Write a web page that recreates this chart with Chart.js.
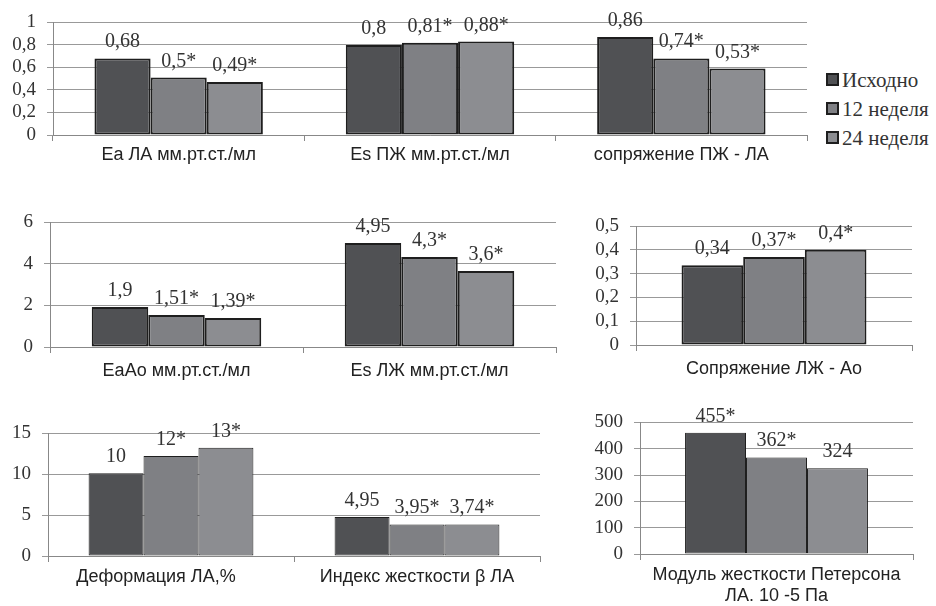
<!DOCTYPE html>
<html lang="ru">
<head>
<meta charset="utf-8">
<title>Показатели жесткости и сопряжения</title>
<script src="https://cdn.jsdelivr.net/npm/chart.js@4.4.0/dist/chart.umd.min.js"></script>
<style>
    html, body { margin: 0; padding: 0; background: #fff; }
    #page { position: relative; width: 936px; height: 606px; overflow: hidden; }
    .box { position: absolute; }
    .legend-item {
        position: absolute; left: 826px; height: 24px; line-height: 24px;
        font-family: "Liberation Serif", "Times New Roman", serif; font-size: 21px; color: #333;
        white-space: nowrap;
    }
    .legend-item span.sw {
        display: inline-block; width: 9px; height: 9px; border: 2px solid #1e1e1e;
        margin-right: 3px; vertical-align: 1px;
    }
</style>
</head>
<body>
<div id="page">
    <div class="box" style="left:0;top:0"><canvas id="c1" width="815" height="180"></canvas></div>
    <div class="box" style="left:0;top:195px"><canvas id="c2" width="565" height="200"></canvas></div>
    <div class="box" style="left:580px;top:200px"><canvas id="c3" width="356" height="190"></canvas></div>
    <div class="box" style="left:0;top:405px"><canvas id="c4" width="560" height="200"></canvas></div>
    <div class="box" style="left:585px;top:400px"><canvas id="c5" width="351" height="206"></canvas></div>
    <div id="legend"></div>
</div>
<script>
// --- Series ---
const seriesNames = ['Исходно', '12 неделя', '24 неделя'];
const seriesColors = ['#505154', '#7f8084', '#8c8d91'];

// --- Chart 1: Ea ЛА / Es ПЖ / сопряжение ПЖ-ЛА ---
const cats1 = ['Ea ЛА мм.рт.ст./мл', 'Es ПЖ мм.рт.ст./мл', 'сопряжение ПЖ - ЛА'];
const base1 = [0.68, 0.80, 0.87];
const week12_1 = [0.51, 0.82, 0.68];
const week24_1 = [0.47, 0.83, 0.59];
const text1 = [['0,68', '0,8', '0,86'], ['0,5*', '0,81*', '0,74*'], ['0,49*', '0,88*', '0,53*']];

// --- Chart 2: EaAo / Es ЛЖ ---
const cats2 = ['EaAo мм.рт.ст./мл', 'Es ЛЖ мм.рт.ст./мл'];
const base2 = [1.92, 4.99];
const week12_2 = [1.54, 4.32];
const week24_2 = [1.39, 3.65];
const text2 = [['1,9', '4,95'], ['1,51*', '4,3*'], ['1,39*', '3,6*']];

// --- Chart 3: Сопряжение ЛЖ-Ао ---
const cats3 = ['Сопряжение ЛЖ - Ао'];
const base3 = [0.335];
const week12_3 = [0.37];
const week24_3 = [0.40];
const text3 = [['0,34'], ['0,37*'], ['0,4*']];

// --- Chart 4: Деформация ЛА / Индекс жесткости ---
const cats4 = ['Деформация ЛА,%      ', 'Индекс жесткости β ЛА'];
const base4 = [10.1, 4.76];
const week12_4 = [12.2, 3.85];
const week24_4 = [13.2, 3.85];
const text4 = [['10', '4,95'], ['12*', '3,95*'], ['13*', '3,74*']];

// --- Chart 5: Модуль Петерсона ---
const cats5 = [['Модуль жесткости Петерсона', 'ЛА. 10 -5 Па']];
const base5 = [461];
const week12_5 = [367];
const week24_5 = [326];
const text5 = [['455*'], ['362*'], ['324']];

const serif = '"Liberation Serif", "Times New Roman", serif';
const sans = '"Liberation Sans", Arial, sans-serif';

// value labels above bars
const valueLabels = {
    id: 'valueLabels',
    afterDatasetsDraw(chart) {
        const ctx = chart.ctx;
        ctx.save();
        ctx.font = '20px ' + serif;
        ctx.fillStyle = '#333';
        ctx.textAlign = 'center';
        ctx.textBaseline = 'alphabetic';
        chart.data.datasets.forEach((ds, i) => {
            chart.getDatasetMeta(i).data.forEach((bar, j) => {
                ctx.fillText(ds.valueText[j], bar.x, bar.y - 11);
            });
        });
        ctx.restore();
    }
};

function fmt(v) {
    return String(Number(v.toFixed(2))).replace('.', ',');
}

function makeChart(id, cats, series, texts, yMax, yStep, geo, bw) {
    const datasets = series.map((data, i) => ({
        label: seriesNames[i],
        data: data,
        valueText: texts[i],
        backgroundColor: seriesColors[i],
        borderColor: '#1e1e1e',
        borderWidth: bw,
        borderSkipped: false,
        categoryPercentage: 0.67,
        barPercentage: 1.0
    }));
    return new Chart(document.getElementById(id), {
        type: 'bar',
        data: { labels: cats, datasets: datasets },
        options: {
            responsive: false,
            animation: false,
            devicePixelRatio: 1,
            layout: { padding: { top: geo.top, right: geo.right, left: 0, bottom: 0 } },
            plugins: { legend: { display: false }, tooltip: { enabled: false } },
            scales: {
                x: {
                    grid: { offset: true, drawOnChartArea: false, tickLength: 6, color: '#888' },
                    border: { color: '#888' },
                    ticks: {
                        color: '#222', font: { family: sans, size: 18 }, padding: geo.xPad,
                        maxRotation: 0, autoSkip: false
                    },
                    afterFit: (scale) => { scale.height = geo.xh; }
                },
                y: {
                    min: 0, max: yMax,
                    grid: { color: '#999', tickLength: 6 },
                    border: { color: '#888' },
                    ticks: {
                        stepSize: yStep, autoSkip: false, color: '#333',
                        font: { family: serif, size: 19 }, padding: 11,
                        callback: (v) => fmt(v)
                    },
                    afterFit: (scale) => { scale.width = geo.yw; }
                }
            }
        },
        plugins: [valueLabels]
    });
}

makeChart('c1', cats1, [base1, week12_1, week24_1], text1, 1, 0.2,
    { top: 20, right: 8, yw: 53, xh: 45, xPad: 3 }, 2);
makeChart('c2', cats2, [base2, week12_2, week24_2], text2, 6, 2,
    { top: 27, right: 9, yw: 50, xh: 48, xPad: 7 }, 2);
makeChart('c3', cats3, [base3, week12_3, week24_3], text3, 0.5, 0.1,
    { top: 26, right: 24, yw: 56, xh: 45, xPad: 7 }, 2);
makeChart('c4', cats4, [base4, week12_4, week24_4], text4, 15, 5,
    { top: 28, right: 20, yw: 48, xh: 49, xPad: 4 }, 1);
makeChart('c5', cats5, [base5, week12_5, week24_5], text5, 500, 100,
    { top: 22, right: 23, yw: 55, xh: 52, xPad: 4 }, 1);

// legend for the top chart
const legend = document.getElementById('legend');
const legendTops = [68, 97, 126];
seriesNames.forEach((name, i) => {
    const item = document.createElement('div');
    item.className = 'legend-item';
    item.style.top = legendTops[i] + 'px';
    item.innerHTML = `<span class="sw" style="background:${seriesColors[i]}"></span>${name}`;
    legend.appendChild(item);
});
</script>
</body>
</html>
